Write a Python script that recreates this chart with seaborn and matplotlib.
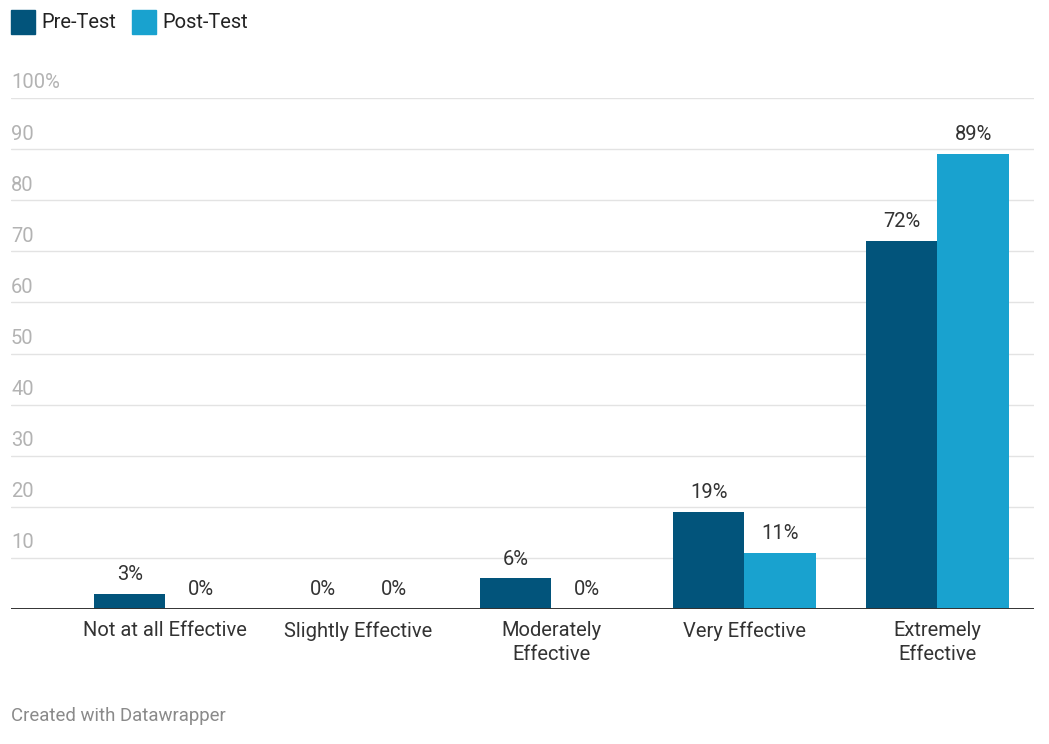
import matplotlib
matplotlib.use("Agg")
import matplotlib.pyplot as plt
import matplotlib.transforms as mtransforms
from matplotlib.patches import Rectangle
import pandas as pd
import seaborn as sns

categories = ["Not at all Effective", "Slightly Effective", "Moderately\nEffective",
              "Very Effective", "Extremely\nEffective"]
series = ["Pre-Test", "Post-Test"]
pre_test = [3, 0, 6, 19, 72]
post_test = [0, 0, 0, 11, 89]
y_ticks = [10, 20, 30, 40, 50, 60, 70, 80, 90, 100]
y_tick_labels = ["10", "20", "30", "40", "50", "60", "70", "80", "90", "100%"]

colors = {"Pre-Test": "#02547b", "Post-Test": "#19a2cf"}

df = pd.DataFrame({
    "category": categories * 2,
    "series": [series[0]] * len(categories) + [series[1]] * len(categories),
    "value": pre_test + post_test,
})

sns.set_style("white")
plt.rcParams["font.family"] = ["Roboto", "DejaVu Sans"]

fig = plt.figure(figsize=(10.49, 7.44), dpi=100)
ax = fig.add_axes([11 / 1049, 135 / 744, 1023 / 1049, 511 / 744])

sns.barplot(data=df, x="category", y="value", hue="series", order=categories,
            hue_order=series, palette=colors, width=0.74, gap=0, dodge=True,
            saturation=1, errorbar=None, legend=False, ax=ax, linewidth=0)

ax.set_xlim(-0.80, 4.50)
ax.set_ylim(0, 100)
ax.set_xlabel("")
ax.set_ylabel("")
ax.set_yticks([])
for s in ax.spines.values():
    s.set_visible(False)

# horizontal gridlines with labels sitting above them
blend = mtransforms.blended_transform_factory(ax.transAxes, ax.transData)
for t, lab in zip(y_ticks, y_tick_labels):
    ax.axhline(t, color="#e3e3e3", lw=1.0, zorder=0)
    ax.annotate(lab, xy=(0, t), xycoords=blend, xytext=(0, 4),
                textcoords="offset points", ha="left", va="bottom",
                fontsize=14.5, color="#b3b3b3")
ax.axhline(0, color="#333333", lw=1.4, zorder=5)

# category labels
ax.tick_params(axis="x", length=0, pad=9, labelsize=14.5, labelcolor="#333333")
ax.set_xticks(range(len(categories)))
ax.set_xticklabels(categories, linespacing=1.3, va="top")

# value labels above each bar
for container in ax.containers:
    ax.bar_label(container, labels=[f"{v:.0f}%" for v in container.datavalues],
                 padding=7, fontsize=14.5, color="#333333")

# legend at top-left
x0 = 11
for name in series:
    fig.patches.append(Rectangle((x0 / 1049, 1 - 34 / 744), 24 / 1049, 24 / 744,
                                 transform=fig.transFigure, color=colors[name]))
    fig.text((x0 + 30) / 1049, 1 - 22 / 744, name, fontsize=14.5,
             color="#222222", va="center", ha="left")
    x0 = 132

fig.text(11 / 1049, 1 - 716 / 744, "Created with Datawrapper", fontsize=13.4,
         color="#8a8a8a", va="center", ha="left")

fig.savefig("out.png", dpi=100, facecolor="white")
